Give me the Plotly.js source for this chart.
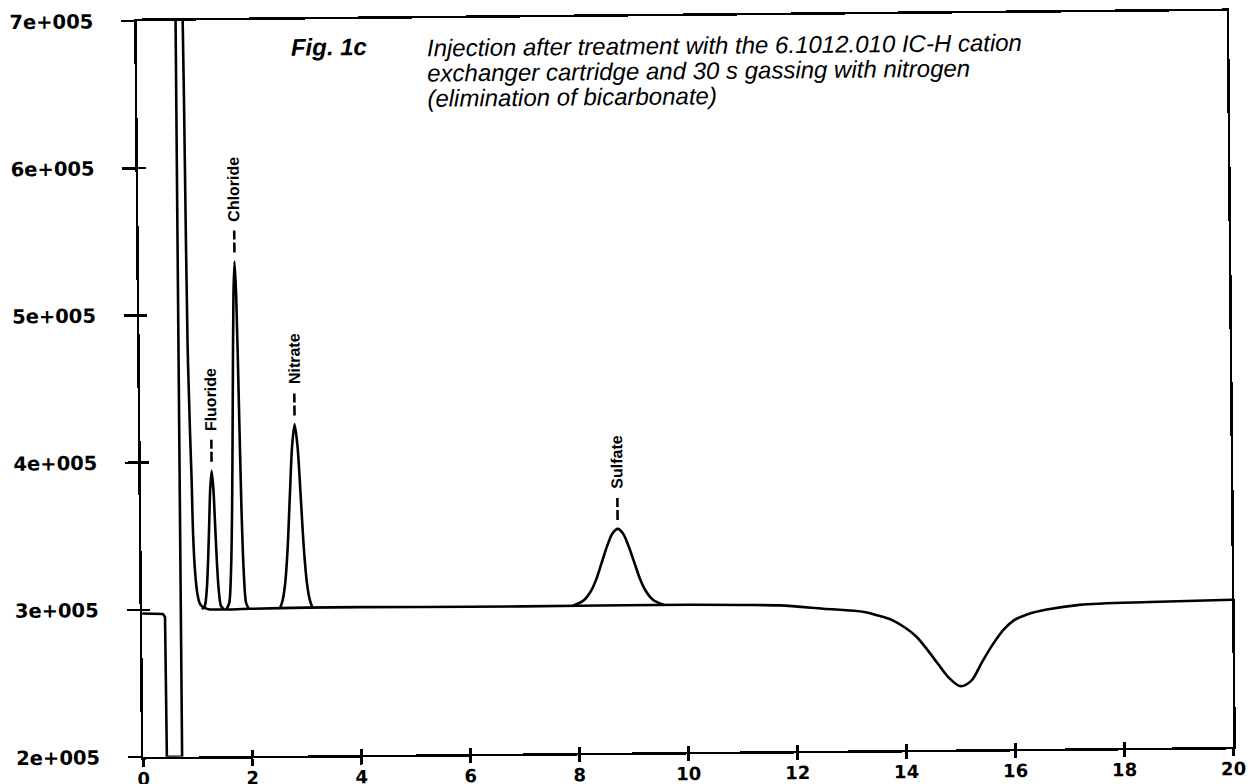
<!DOCTYPE html>
<html>
<head>
<meta charset="utf-8">
<script src="https://cdn.plot.ly/plotly-3.0.1.min.js"></script>
<style>
  html, body { margin: 0; padding: 0; background: #ffffff; overflow: hidden; }
  #chart { width: 1248px; height: 784px; transform: rotate(-0.53deg); transform-origin: 685px 384px; }
</style>
</head>
<body>
<div id="chart"></div>
<script>
// ---- data ----
// injection step (time in min, signal)
const stepT = [0, 0.38, 0.42, 0.43, 0.71, 0.715, 0.80];
const stepV = [2.975e5, 2.97e5, 2.95e5, 2.0e5, 2.0e5, 7.6e5, 7.6e5];

// solvent tail + baseline (incl. negative water dip)
const mainT = [0.80, 0.845, 0.86, 0.88, 0.91, 0.93, 0.95, 0.98, 1.02, 1.06, 1.10, 1.15, 1.22,
               2, 3, 4, 6, 8, 10, 11, 11.7, 12.5, 13.25, 13.5, 13.75, 14.0, 14.2, 14.4, 14.6, 14.8, 15.0,
               15.2, 15.4, 15.6, 15.8, 16.0, 16.25, 16.6, 17.2, 18.5, 20];
const mainV = [7.6e5, 7.0e5, 6.1e5, 4.8e5, 4.2e5, 3.9e5, 3.5e5, 3.25e5, 3.1e5, 3.04e5, 3.02e5, 3.01e5, 3.0e5,
               3.0e5, 3.005e5, 3.005e5, 3.0e5, 3.0e5, 3.0e5, 2.995e5, 2.99e5, 2.965e5, 2.94e5, 2.915e5, 2.885e5, 2.83e5, 2.77e5, 2.68e5, 2.58e5, 2.485e5, 2.43e5,
               2.465e5, 2.59e5, 2.71e5, 2.81e5, 2.875e5, 2.915e5, 2.945e5, 2.975e5, 2.99e5, 3.0e5];

const fluorideT = [1.10, 1.15, 1.19, 1.22, 1.25, 1.27, 1.30, 1.33, 1.35, 1.38, 1.41, 1.45, 1.50];
const fluorideV = [3.0e5, 3.02e5, 3.13e5, 3.33e5, 3.62e5, 3.81e5, 3.94e5, 3.81e5, 3.62e5, 3.33e5, 3.13e5, 3.02e5, 3.0e5];

const chlorideT = [1.55, 1.60, 1.64, 1.67, 1.70, 1.73, 1.755, 1.78, 1.81, 1.84, 1.87, 1.91, 1.96];
const chlorideV = [3.0e5, 3.04e5, 3.27e5, 3.7e5, 4.43e5, 5.13e5, 5.36e5, 5.13e5, 4.43e5, 3.7e5, 3.27e5, 3.04e5, 3.0e5];

const nitrateT = [2.53, 2.58, 2.63, 2.68, 2.73, 2.78, 2.83, 2.88, 2.93, 2.98, 3.03, 3.08, 3.13];
const nitrateV = [3.0e5, 3.055e5, 3.17e5, 3.4e5, 3.76e5, 4.1e5, 4.25e5, 4.1e5, 3.76e5, 3.4e5, 3.17e5, 3.055e5, 3.0e5];

const sulfateT = [7.9, 8.1, 8.24, 8.34, 8.44, 8.54, 8.64, 8.74, 8.84, 8.94, 9.04, 9.14, 9.24, 9.38, 9.58];
const sulfateV = [3.0e5, 3.035e5, 3.10e5, 3.18e5, 3.29e5, 3.40e5, 3.487e5, 3.52e5, 3.487e5, 3.40e5, 3.29e5, 3.18e5, 3.10e5, 3.035e5, 3.0e5];

const peakNames = ["Fluoride", "Chloride", "Nitrate", "Sulfate"];

const xTickVals = [0, 2, 4, 6, 8, 10, 12, 14, 16, 18, 20];
const xTickText = ["0", "2", "4", "6", "8", "10", "12", "14", "16", "18", "20"];
const yTickVals = [2e5, 3e5, 4e5, 5e5, 6e5, 7e5];
const yTickText = ["2e+005", "3e+005", "4e+005", "5e+005", "6e+005", "7e+005"];

const titleFig = "Fig. 1c";
const titleLines = [
  "Injection after treatment with the 6.1012.010 IC-H cation",
  "exchanger cartridge and 30 s gassing with nitrogen",
  "(elimination of bicarbonate)"
];

// ---- build ----
const lineStyle = {color: "#000000", width: 2.6};
const peaks = [[fluorideT, fluorideV], [chlorideT, chlorideV], [nitrateT, nitrateV], [sulfateT, sulfateV]];

const traces = [
  {x: stepT, y: stepV, mode: "lines", line: Object.assign({shape: "linear"}, lineStyle), hoverinfo: "skip", showlegend: false},
  {x: mainT, y: mainV, mode: "lines", line: Object.assign({shape: "spline", smoothing: 0.9}, lineStyle), hoverinfo: "skip", showlegend: false}
];
peaks.forEach(p => traces.push({x: p[0], y: p[1], mode: "lines", line: Object.assign({shape: "spline", smoothing: 0.8}, lineStyle), hoverinfo: "skip", showlegend: false}));
// dummy trace for overlay axes (inside tick halves)
traces.push({x: [], y: [], xaxis: "x2", yaxis: "y2", mode: "lines", hoverinfo: "skip", showlegend: false});

const annotations = [];
const shapes = [];
peaks.forEach((p, i) => {
  let k = 0;
  p[1].forEach((v, j) => { if (v > p[1][k]) k = j; });
  const t = p[0][k], v = p[1][k];
  annotations.push({xref: "x", yref: "y", x: t, y: v, text: peakNames[i], textangle: -90,
    xanchor: "center", yanchor: "bottom", yshift: 38, showarrow: false,
    font: {family: "Liberation Sans, Arial, sans-serif", size: 16, color: "#000", weight: "bold"}});
  shapes.push({type: "line", xref: "x", yref: "y", ysizemode: "pixel", yanchor: v,
    x0: t, x1: t, y0: 9, y1: 31, line: {color: "#000", width: 2.6, dash: "10px,3px"}});
});

const txtFont = {family: "Liberation Sans, Arial, sans-serif", size: 24, color: "#000", style: "italic"};
annotations.push({xref: "paper", yref: "paper", x: 0.1395, y: 0.962, xanchor: "left", yanchor: "middle",
  text: "<b>" + titleFig + "</b>", showarrow: false, font: txtFont});
// one text block; line pitch from the small base size, glyphs enlarged per line
annotations.push({xref: "paper", yref: "paper", x: 0.2642, y: 0.9266, xanchor: "left", yanchor: "middle", align: "left",
  text: titleLines.map(s => '<span style="font-size:24px">' + s + '</span>').join("<br>"),
  showarrow: false, font: {family: "Liberation Sans, Arial, sans-serif", size: 19.4, color: "#000", style: "italic"}});

const tickFontY = {family: "DejaVu Sans, sans-serif", size: 19.5, color: "#000", weight: "bold"};
const tickFontX = {family: "DejaVu Sans, sans-serif", size: 18, color: "#000", weight: "bold"};

const layout = {
  width: 1248, height: 784,
  margin: {l: 140, r: 18, t: 16, b: 32, pad: 0},
  paper_bgcolor: "#ffffff", plot_bgcolor: "#ffffff",
  showlegend: false,
  xaxis: {range: [0, 20], tickmode: "array", tickvals: xTickVals, ticktext: xTickText,
    ticks: "outside", ticklen: 7, tickwidth: 2.5, tickcolor: "#000",
    showline: true, linewidth: 2.5, linecolor: "#000", mirror: true,
    showgrid: false, zeroline: false, tickfont: tickFontX, ticklabelstandoff: -3, fixedrange: true},
  yaxis: {range: [2e5, 7e5], tickmode: "array", tickvals: yTickVals, ticktext: yTickText,
    ticks: "outside", ticklen: 13, tickwidth: 2.5, tickcolor: "#000",
    showline: true, linewidth: 2.5, linecolor: "#000", mirror: true,
    showgrid: false, zeroline: false, tickfont: tickFontY, ticklabelstandoff: 24, fixedrange: true},
  xaxis2: {overlaying: "x", anchor: "y2", side: "bottom", range: [0, 20], tickmode: "array", tickvals: xTickVals,
    ticks: "inside", ticklen: 6, tickwidth: 2.5, tickcolor: "#000", showticklabels: false,
    showline: false, showgrid: false, zeroline: false, fixedrange: true},
  yaxis2: {overlaying: "y", anchor: "x2", side: "left", range: [2e5, 7e5], tickmode: "array", tickvals: yTickVals,
    ticks: "inside", ticklen: 8, tickwidth: 2.5, tickcolor: "#000", showticklabels: false,
    showline: false, showgrid: false, zeroline: false, fixedrange: true},
  annotations: annotations,
  shapes: shapes
};

Plotly.newPlot("chart", traces, layout, {staticPlot: true, displayModeBar: false});
</script>
</body>
</html>
